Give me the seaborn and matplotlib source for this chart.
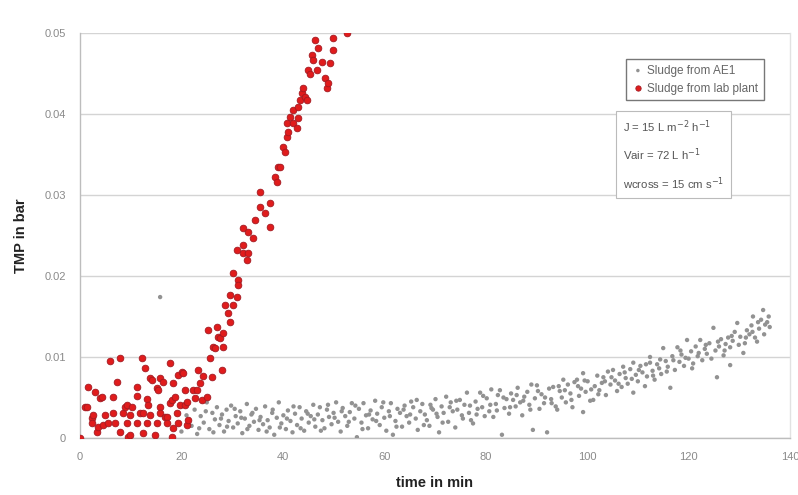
import numpy as np
import pandas as pd
import matplotlib
matplotlib.use("Agg")
import matplotlib.pyplot as plt
import seaborn as sns

# --- Sludge from AE1 (grey) : time in min, TMP in bar ---
ae1_time = [
    15.8, 18.5, 19.2, 20.0, 20.6, 21.3, 22.0, 22.6, 23.1, 23.8, 24.4, 25.0, 25.5, 26.1, 26.6,
    27.0, 27.5, 28.0, 28.4, 28.9, 29.3, 29.8, 30.2, 30.7, 31.1, 31.6, 32.0, 32.5, 32.9,
    33.4, 33.8, 34.3, 34.7, 35.2, 35.6, 36.1, 36.5, 37.0, 37.4, 37.9, 38.3, 38.8, 39.2,
    39.7, 40.1, 40.6, 41.0, 41.5, 41.9, 42.4, 42.8, 43.3, 43.7, 44.2, 44.6, 45.1, 45.5,
    46.0, 46.4, 46.9, 47.3, 47.8, 48.2, 48.7, 49.1, 49.6, 50.0, 50.5, 50.9, 51.4, 51.8,
    52.3, 52.7, 53.2, 53.6, 54.1, 54.6, 55.0, 55.5, 55.9, 56.4, 56.8, 57.3, 57.7, 58.2,
    58.6, 59.1, 59.5, 60.0, 60.4, 60.9, 61.3, 61.7, 62.2, 62.6, 63.1, 63.5, 64.0, 64.4,
    64.9, 65.3, 65.7, 66.2, 66.6, 67.1, 67.5, 68.0, 68.4, 68.9, 69.3, 69.6, 70.1, 70.5,
    70.8, 71.3, 71.7, 72.2, 72.6, 73.1, 73.5, 74.0, 74.4, 74.9, 75.3, 75.8, 76.3, 76.7,
    77.1, 77.5, 78.0, 78.4, 78.9, 79.3, 79.8, 80.2, 80.7, 81.1, 81.5, 82.0, 82.4, 82.8,
    83.2, 83.7, 84.1, 84.6, 85.0, 85.4, 85.9, 86.3, 86.8, 87.2, 87.6, 88.2, 88.6, 89.0,
    89.3, 89.7, 90.1, 90.6, 91.0, 91.5, 92.1, 92.5, 92.9, 93.3, 93.8, 94.1, 94.6, 95.0,
    95.3, 95.8, 96.2, 96.7, 97.1, 97.5, 98.0, 98.4, 98.8, 99.2, 99.2, 99.7, 100.1, 100.6,
    101.2, 101.5, 102.0, 102.4, 102.9, 103.2, 103.7, 104.1, 104.6, 105.1, 105.5, 105.9,
    106.4, 106.8, 107.1, 107.6, 108.0, 108.5, 109.1, 109.1, 109.6, 110.0, 110.5, 110.9,
    111.4, 111.8, 112.4, 112.4, 112.9, 113.3, 113.8, 114.2, 114.6, 115.0, 115.5, 115.9,
    116.4, 116.8, 117.3, 117.8, 118.2, 118.6, 119.1, 119.7, 120.0, 120.5, 120.9, 121.4,
    121.8, 122.3, 122.7, 123.2, 123.6, 124.1, 124.9, 125.3, 125.6, 126.0, 126.4, 126.9,
    127.3, 127.8, 128.2, 128.2, 128.7, 129.1, 129.6, 130.2, 130.8, 131.1, 131.5, 132.0,
    132.4, 132.7, 133.1, 133.5, 133.9, 134.3, 134.7, 135.1, 135.5, 136.0,
    21.0, 23.5, 24.8, 26.3, 27.8, 29.0, 30.5, 31.8, 33.0, 34.0, 35.4, 36.8, 38.0, 39.4,
    40.8, 42.1, 43.5, 44.9, 46.2, 47.5, 48.9, 50.2, 51.6, 53.0, 54.3, 55.7, 57.0, 58.4,
    59.8, 61.1, 62.4, 63.8, 65.1, 66.4, 67.8, 69.1, 70.3, 71.5, 72.9, 74.2, 75.5, 76.9,
    78.2, 79.5, 80.9, 82.2, 83.5, 84.8, 86.1, 87.4, 88.8, 90.3, 91.7, 93.0, 94.4, 95.6,
    96.9, 98.2, 99.5, 100.8, 102.2, 103.5, 104.8, 106.2, 107.4, 108.8, 110.2, 111.6, 113.0,
    114.4, 115.7, 117.0, 118.4, 119.4, 120.7, 122.0, 123.4, 124.5, 125.8, 127.1, 128.5,
    129.9, 131.3, 132.6, 133.7, 134.9, 135.8,
]
ae1_tmp = [
    0.0174, 0.0012, 0.0030, 0.0008, 0.0041, 0.0022, 0.0015, 0.0035, 0.0005, 0.0027, 0.0019, 0.0044, 0.0011, 0.0031, 0.0023,
    0.0038, 0.0016, 0.0029, 0.0008, 0.0035, 0.0021, 0.0040, 0.0013, 0.0027, 0.0018, 0.0033, 0.0006, 0.0024, 0.0042,
    0.0015, 0.0029, 0.0020, 0.0036, 0.0010, 0.0026, 0.0017, 0.0039, 0.0022, 0.0013, 0.0031, 0.0004, 0.0025, 0.0044,
    0.0018, 0.0028, 0.0011, 0.0034, 0.0021, 0.0007, 0.0030, 0.0016, 0.0038, 0.0024, 0.0009, 0.0033, 0.0019, 0.0027,
    0.0041, 0.0014, 0.0029, 0.0038, 0.0022, 0.0012, 0.0035, 0.0026, 0.0017, 0.0031, 0.0044, 0.0020, 0.0008, 0.0037,
    0.0027, 0.0015, 0.0032, 0.0043, 0.0024, 0.0001, 0.0036, 0.0019, 0.0043, 0.0028, 0.0012, 0.0034, 0.0023, 0.0046,
    0.0030, 0.0016, 0.0038, 0.0025, 0.0009, 0.0033, 0.0043, 0.0004, 0.0021, 0.0036, 0.0031, 0.0014, 0.0040, 0.0027,
    0.0019, 0.0045, 0.0038, 0.0024, 0.0010, 0.0033, 0.0042, 0.0029, 0.0022, 0.0015, 0.0037, 0.0035, 0.0048, 0.0026,
    0.0007, 0.0039, 0.0031, 0.0051, 0.0020, 0.0044, 0.0033, 0.0013, 0.0035, 0.0047, 0.0028, 0.0041, 0.0056, 0.0031,
    0.0022, 0.0018, 0.0045, 0.0036, 0.0056, 0.0038, 0.0027, 0.0049, 0.0033, 0.0060, 0.0026, 0.0042, 0.0053, 0.0059,
    0.0004, 0.0037, 0.0048, 0.0030, 0.0055, 0.0047, 0.0039, 0.0062, 0.0044, 0.0028, 0.0051, 0.0057, 0.0041, 0.0066,
    0.0010, 0.0049, 0.0065, 0.0036, 0.0054, 0.0043, 0.0007, 0.0061, 0.0048, 0.0063, 0.0039, 0.0035, 0.0058, 0.0050,
    0.0072, 0.0044, 0.0066, 0.0055, 0.0038, 0.0069, 0.0072, 0.0052, 0.0061, 0.0080, 0.0032, 0.0057, 0.0070, 0.0046,
    0.0047, 0.0064, 0.0077, 0.0059, 0.0068, 0.0075, 0.0053, 0.0082, 0.0066, 0.0084, 0.0071, 0.0058,
    0.0079, 0.0063, 0.0088, 0.0074, 0.0067, 0.0085, 0.0093, 0.0056, 0.0078, 0.0070, 0.0089, 0.0081,
    0.0064, 0.0076, 0.0100, 0.0093, 0.0083, 0.0072, 0.0091, 0.0086, 0.0079, 0.0111, 0.0095, 0.0088,
    0.0062, 0.0101, 0.0084, 0.0112, 0.0094, 0.0103, 0.0089, 0.0121, 0.0098, 0.0107, 0.0092, 0.0113,
    0.0101, 0.0121, 0.0096, 0.0110, 0.0104, 0.0117, 0.0136, 0.0108, 0.0075, 0.0113, 0.0122, 0.0102,
    0.0116, 0.0124, 0.0112, 0.0090, 0.0120, 0.0131, 0.0142, 0.0125, 0.0105, 0.0117, 0.0133, 0.0128,
    0.0139, 0.0150, 0.0124, 0.0119, 0.0135, 0.0146, 0.0158, 0.0140, 0.0143, 0.0137,
    0.0028, 0.0012, 0.0033, 0.0007, 0.0024, 0.0014, 0.0036, 0.0025, 0.0011, 0.0031, 0.0022, 0.0008, 0.0035, 0.0013,
    0.0024, 0.0039, 0.0012, 0.0030, 0.0023, 0.0009, 0.0041, 0.0025, 0.0033, 0.0020, 0.0040, 0.0011, 0.0029, 0.0021,
    0.0044, 0.0027, 0.0014, 0.0035, 0.0029, 0.0047, 0.0016, 0.0041, 0.0030, 0.0019, 0.0038, 0.0046, 0.0024, 0.0040,
    0.0029, 0.0052, 0.0041, 0.0034, 0.0050, 0.0038, 0.0053, 0.0046, 0.0035, 0.0058, 0.0050, 0.0043, 0.0064, 0.0059,
    0.0047, 0.0064, 0.0071, 0.0060, 0.0054, 0.0070, 0.0075, 0.0067, 0.0081, 0.0073, 0.0084, 0.0091, 0.0077,
    0.0097, 0.0082, 0.0096, 0.0108, 0.0099, 0.0086, 0.0105, 0.0115, 0.0098, 0.0119, 0.0108, 0.0126,
    0.0115, 0.0124, 0.0131, 0.0143, 0.0128, 0.0150,
]

# --- Sludge from lab plant (red) : time in min, TMP in bar ---
lab_time = [
    0.0, 1.0, 1.4, 1.6, 2.3, 2.4, 2.6, 3.0, 3.3, 3.5, 3.9, 4.3, 4.5, 4.9, 5.6, 5.9, 6.5,
    6.5, 6.9, 7.3, 7.9, 7.9, 8.5, 8.9, 9.3, 9.3, 9.5, 9.9, 9.9, 10.3, 11.2, 11.2, 11.2,
    11.8, 12.2, 12.4, 12.4, 12.8, 13.2, 13.2, 13.4, 13.8, 13.8, 14.2, 14.8, 15.2, 15.2,
    15.4, 15.8, 15.8, 15.8, 16.4, 16.8, 17.2, 17.2, 17.8, 17.8, 18.1, 18.1, 18.3, 18.3,
    18.7, 19.1, 19.3, 19.3, 19.7, 20.1, 20.3, 20.7, 20.7, 21.1, 21.1, 21.3, 22.3, 22.7,
    23.1, 23.3, 23.7, 24.1, 24.3, 25.0, 25.2, 25.6, 26.0, 26.2, 26.6, 27.0, 27.2, 27.6,
    28.0, 28.2, 28.2, 28.6, 29.2, 29.6, 29.6, 30.2, 30.2, 31.0, 31.0, 31.2, 31.2, 32.1,
    32.2, 32.2, 32.9, 33.1, 33.1, 34.1, 34.5, 35.5, 35.5, 36.5, 37.5, 37.5, 38.5, 38.8,
    39.0, 39.4, 40.0, 40.4, 40.8, 40.8, 41.0, 41.4, 42.0, 42.0, 42.8, 43.0, 43.0, 43.4,
    43.8, 44.0, 44.4, 44.8, 45.0, 45.4, 45.8, 46.0, 46.4, 46.7, 47.0, 47.7, 48.3, 48.7,
    48.9, 49.3, 49.9, 49.9, 52.7,
]
lab_tmp = [
    0.0000, 0.0038, 0.0038, 0.0063, 0.0025, 0.0018, 0.0028, 0.0057, 0.0007, 0.0014, 0.0049, 0.0051, 0.0016, 0.0028, 0.0018, 0.0095, 0.0051,
    0.0031, 0.0019, 0.0069, 0.0099, 0.0007, 0.0031, 0.0038, 0.0041, 0.0018, 0.0001, 0.0028, 0.0004, 0.0038, 0.0063, 0.0052, 0.0019,
    0.0031, 0.0099, 0.0006, 0.0031, 0.0087, 0.0048, 0.0018, 0.0041, 0.0074, 0.0028, 0.0072, 0.0004, 0.0062, 0.0019,
    0.0059, 0.0074, 0.0038, 0.0031, 0.0069, 0.0026, 0.0026, 0.0018, 0.0093, 0.0043, 0.0047, 0.0001, 0.0068, 0.0012,
    0.0051, 0.0031, 0.0078, 0.0019, 0.0041, 0.0081, 0.0080, 0.0059, 0.0041, 0.0044, 0.0016, 0.0022, 0.0059, 0.0049,
    0.0059, 0.0084, 0.0068, 0.0047, 0.0076, 0.0051, 0.0133, 0.0099, 0.0075, 0.0112, 0.0111, 0.0137, 0.0125, 0.0123,
    0.0084, 0.0130, 0.0112, 0.0164, 0.0154, 0.0177, 0.0143, 0.0204, 0.0164, 0.0232, 0.0174, 0.0195, 0.0189, 0.0228,
    0.0238, 0.0259, 0.0220, 0.0254, 0.0228, 0.0247, 0.0269, 0.0304, 0.0285, 0.0278, 0.0290, 0.0260, 0.0322, 0.0316,
    0.0335, 0.0335, 0.0359, 0.0353, 0.0372, 0.0389, 0.0378, 0.0396, 0.0405, 0.0389, 0.0383, 0.0409, 0.0395, 0.0417,
    0.0426, 0.0432, 0.0421, 0.0417, 0.0454, 0.0450, 0.0473, 0.0467, 0.0491, 0.0454, 0.0481, 0.0464, 0.0444, 0.0432,
    0.0438, 0.0463, 0.0494, 0.0479, 0.0500,
]

x_ticks = [0, 20, 40, 60, 80, 100, 120, 140]
y_ticks = [0, 0.01, 0.02, 0.03, 0.04, 0.05]
y_tick_labels = ["0", "0.01", "0.02", "0.03", "0.04", "0.05"]

df_ae1 = pd.DataFrame({"time": ae1_time, "tmp": ae1_tmp})
df_lab = pd.DataFrame({"time": lab_time, "tmp": lab_tmp})

sns.set_style("white")
plt.rcParams["font.family"] = ["Liberation Sans", "DejaVu Sans"]

fig = plt.figure(figsize=(7.98, 4.95), dpi=100)
ax = fig.add_axes([80 / 798, 57 / 495, 710 / 798, 405 / 495])

sns.scatterplot(data=df_ae1, x="time", y="tmp", ax=ax, marker="o", s=10,
                color="#929292", edgecolor="none", linewidth=0,
                label="Sludge from AE1", zorder=3)
sns.scatterplot(data=df_lab, x="time", y="tmp", ax=ax, marker="o", s=23,
                color="#e01c1c", edgecolor="#a31a22", linewidth=0.6,
                label="Sludge from lab plant", zorder=4)

ax.set_xlim(0, 140)
ax.set_ylim(0, 0.05)
ax.set_xticks(x_ticks)
ax.set_yticks(y_ticks)
ax.set_yticklabels(y_tick_labels)
ax.tick_params(axis="both", labelsize=8, colors="#9a9a9a", labelcolor="#8a8a8a",
               length=4, width=0.8, direction="out", pad=6)
ax.tick_params(axis="x", length=0, pad=10)

ax.yaxis.grid(True, color="#d4d4d4", linewidth=1.0)
ax.xaxis.grid(False)
ax.set_axisbelow(True)
for side in ("left", "bottom"):
    ax.spines[side].set_color("#bdbdbd")
    ax.spines[side].set_linewidth(1.0)
ax.spines["top"].set_visible(False)
ax.spines["right"].set_color("#e2e2e2")
ax.spines["right"].set_linewidth(1.0)

ax.set_xlabel("time in min", fontsize=10.5, fontweight="bold", color="#222222", labelpad=10)
ax.set_ylabel("TMP in bar", fontsize=10.5, fontweight="bold", color="#222222", labelpad=12)

leg = ax.legend(loc="upper right", bbox_to_anchor=(0.972, 0.951), fontsize=8.5,
                frameon=True, fancybox=False, borderpad=0.5, handletextpad=0.3,
                labelspacing=0.5, handlelength=1.0, markerscale=0.8)
leg.get_frame().set_edgecolor("#555555")
leg.get_frame().set_linewidth(1.0)
for t in leg.get_texts():
    t.set_color("#666666")

conditions = "\n".join([
    r"J = 15 L m$^{-2}$ h$^{-1}$",
    r"Vair = 72 L h$^{-1}$",
    r"wcross = 15 cm s$^{-1}$",
])
ax.text(0.765, 0.79, conditions, transform=ax.transAxes, fontsize=8.2,
        color="#555555", va="top", ha="left", linespacing=1.9,
        bbox=dict(boxstyle="square,pad=0.6", facecolor="white",
                  edgecolor="#bbbbbb", linewidth=0.8), zorder=5)

fig.savefig("out.png", dpi=100)
